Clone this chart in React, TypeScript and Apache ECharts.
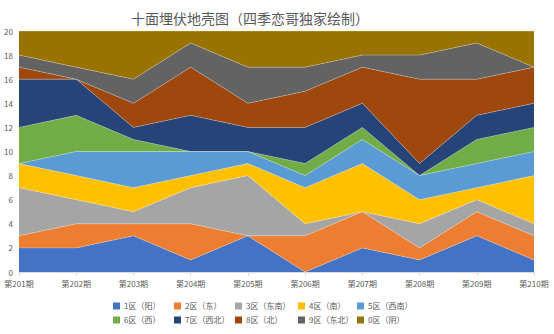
import React, { useEffect, useRef } from "react";
import * as echarts from "echarts";

const categories = ["第201期", "第202期", "第203期", "第204期", "第205期", "第206期", "第207期", "第208期", "第209期", "第210期"];
const seriesNames = ["1区（阳）", "2区（东）", "3区（东南）", "4区（南）", "5区（西南）", "6区（西）", "7区（西北）", "8区（北）", "9区（东北）", "0区（阴）"];
const zone1 = [2, 2, 3, 1, 3, 0, 2, 1, 3, 1];
const zone2 = [1, 2, 1, 3, 0, 3, 3, 1, 2, 2];
const zone3 = [4, 2, 1, 3, 5, 1, 0, 2, 1, 1];
const zone4 = [2, 2, 2, 1, 1, 3, 4, 2, 1, 4];
const zone5 = [0, 2, 3, 2, 1, 1, 2, 2, 2, 2];
const zone6 = [3, 3, 1, 0, 0, 1, 1, 0, 2, 2];
const zone7 = [4, 3, 1, 3, 2, 3, 2, 1, 2, 2];
const zone8 = [1, 0, 2, 4, 2, 3, 3, 7, 3, 3];
const zone9 = [1, 1, 2, 2, 3, 2, 1, 2, 3, 0];
const zone0 = [2, 3, 4, 1, 3, 3, 2, 2, 1, 3];
const seriesData = [zone1, zone2, zone3, zone4, zone5, zone6, zone7, zone8, zone9, zone0];
const colors = ["#4472C4", "#ED7D31", "#A5A5A5", "#FFC000", "#5B9BD5", "#70AD47", "#264478", "#9E480E", "#636363", "#997300"];

const FONT = "'Noto Sans CJK SC', 'Noto Sans', sans-serif";

export default function App() {
  const ref = useRef<HTMLDivElement>(null);
  useEffect(() => {
    if (!ref.current) return;
    const chart = echarts.init(ref.current, undefined, { renderer: "svg" });
    const legendCols = [113, 174, 235, 298, 357];
    const legendRows = [302, 316];
    const legends = seriesNames.map((name, i) => ({
      data: [name],
      left: legendCols[i % 5],
      top: legendRows[Math.floor(i / 5)],
      itemWidth: 7,
      itemHeight: 7,
      itemGap: 4,
      icon: "rect",
      padding: 0,
      selectedMode: false,
      itemStyle: { borderWidth: 0 },
      textStyle: { fontSize: 8, color: "#595959", fontFamily: FONT, padding: [0, 0, 0, -1] },
    }));
    chart.setOption({
      animation: false,
      color: colors,
      title: {
        text: "十面埋伏地壳图（四季恋哥独家绘制）",
        left: 245,
        textAlign: "center",
        top: 6,
        textStyle: { fontSize: 14, fontWeight: "normal", color: "#595959", fontFamily: FONT },
      },
      legend: legends,
      grid: { left: 19, right: 20, top: 31, bottom: 62, containLabel: false },
      xAxis: {
        type: "category",
        data: categories,
        boundaryGap: false,
        axisLine: { lineStyle: { color: "#D9D9D9" } },
        axisTick: { show: true, alignWithLabel: true, length: 4, lineStyle: { color: "#D9D9D9" } },
        axisLabel: { fontSize: 8, color: "#595959", fontFamily: FONT, margin: 7, interval: 0 },
      },
      yAxis: {
        type: "value",
        min: 0,
        max: 20,
        interval: 2,
        splitLine: { show: false },
        axisLine: { show: false },
        axisTick: { show: false },
        axisLabel: { fontSize: 8, color: "#595959", fontFamily: FONT, margin: 6 },
      },
      series: seriesData.map((d, i) => ({
        name: seriesNames[i],
        type: "line",
        stack: "total",
        data: d,
        symbol: "none",
        showSymbol: false,
        itemStyle: { color: colors[i] },
        lineStyle: { width: 0.6, color: "rgba(255,255,255,0.45)" },
        areaStyle: { color: colors[i], opacity: 1 },
      })),
    });
    return () => chart.dispose();
  }, []);
  return <div ref={ref} style={{ position: "absolute", left: 0, top: 0, width: 554, height: 334 }} />;
}
